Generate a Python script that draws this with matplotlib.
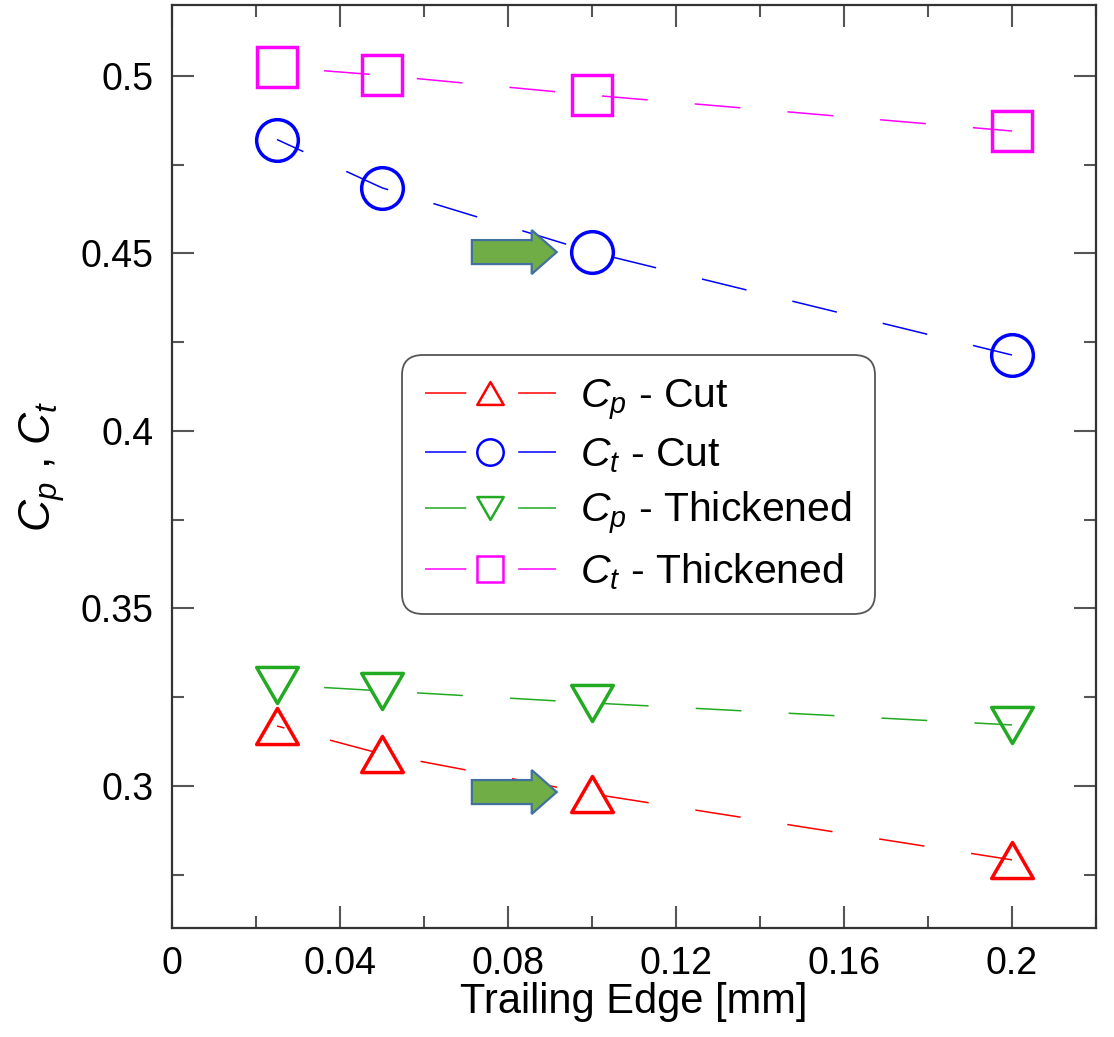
import matplotlib
matplotlib.use("Agg")
import matplotlib.pyplot as plt
from matplotlib.lines import Line2D
from matplotlib.markers import MarkerStyle
from matplotlib.patches import FancyArrow
from matplotlib.path import Path
from matplotlib.ticker import MultipleLocator, FormatStrFormatter

plt.rcParams['font.family'] = ['Liberation Sans', 'DejaVu Sans']
plt.rcParams['mathtext.fontset'] = 'custom'
plt.rcParams['mathtext.rm'] = 'Liberation Sans'
plt.rcParams['mathtext.it'] = 'Liberation Sans:italic'

# trailing edge size [mm] and coefficients
te = [0.025, 0.05, 0.1, 0.2]
cp_cut = [0.3169, 0.3090, 0.2978, 0.2792]
ct_cut = [0.4821, 0.4685, 0.4504, 0.4214]
cp_thick = [0.3285, 0.3268, 0.3234, 0.3172]
ct_thick = [0.5025, 0.5002, 0.4946, 0.4845]

labels = [r'$C_p$ - Cut', r'$C_t$ - Cut', r'$C_p$ - Thickened', r'$C_t$ - Thickened']
colors = ['#ff0000', '#0000ff', '#22aa22', '#ff00ff']

# arrow annotations (tail x, centre y)
arrow_x = [0.0714, 0.0714]
arrow_y = [0.4504, 0.2983]


def tri_marker(up=True):
    s = 1 if up else -1
    verts = [(-1, -0.866 * s), (1, -0.866 * s), (0, 0.866 * s), (-1, -0.866 * s)]
    return MarkerStyle(Path(verts, closed=True), joinstyle='miter')


markers = [tri_marker(True), 'o', tri_marker(False), 's']
sizes = [30, 30, 30, 29.5]
dash_offsets = [25, 11, 30, 30]
series = [cp_cut, ct_cut, cp_thick, ct_thick]

fig, ax = plt.subplots(figsize=(11.14, 10.37), dpi=100)
fig.subplots_adjust(left=0.1544, right=0.9838, bottom=0.1051, top=0.9952)

for ys, col, mk, ms, off in zip(series, colors, markers, sizes, dash_offsets):
    ax.plot(te, ys, color=col, lw=1.1, linestyle=(off, (30, 30.9)),
            marker=mk, ms=ms, mfc='none', mec=col, mew=2.5, zorder=3)

for x, y in zip(arrow_x, arrow_y):
    ax.add_patch(FancyArrow(x, y, 0.0202, 0, width=0.00676, head_width=0.0124,
                            head_length=0.00595, length_includes_head=True,
                            fc='#70ad47', ec='#41719c', lw=1.6, zorder=4))

ax.set_xlim(0, 0.22)
ax.set_ylim(0.26, 0.52)
ax.xaxis.set_major_locator(MultipleLocator(0.04))
ax.xaxis.set_minor_locator(MultipleLocator(0.02))
ax.yaxis.set_major_locator(MultipleLocator(0.05))
ax.yaxis.set_minor_locator(MultipleLocator(0.025))
ax.xaxis.set_major_formatter(FormatStrFormatter('%g'))
ax.yaxis.set_major_formatter(FormatStrFormatter('%g'))

ax.tick_params(which='both', direction='in', top=True, right=True,
               color='#555555', labelcolor='black', labelsize=27, pad=13, width=1.5)
ax.tick_params(which='major', length=16)
ax.tick_params(which='minor', length=8.6)
for sp in ax.spines.values():
    sp.set_linewidth(1.6)
    sp.set_color('#333333')

ax.set_xlabel('Trailing Edge [mm]', fontsize=30, labelpad=0)
ax.set_ylabel(r'$C_p$ , $C_t$', fontsize=32, labelpad=10)

handles = [Line2D([], [], color=c, lw=1.1, ls=(0, (27, 34)), marker=m,
                  ms=19, mfc='none', mec=c, mew=1.8)
           for c, m in zip(colors, markers)]
leg = ax.legend(handles, labels, loc='upper left', bbox_to_anchor=(0.249, 0.621),
                borderaxespad=0, fontsize=29.5, handlelength=3.2, handletextpad=0.6,
                labelspacing=0.35, borderpad=0.55, fancybox=True,
                edgecolor='#555555', framealpha=1)
leg.get_frame().set_boxstyle('round', pad=0, rounding_size=0.5)
leg.get_frame().set_linewidth(1.3)

fig.savefig('out.png', dpi=100)
